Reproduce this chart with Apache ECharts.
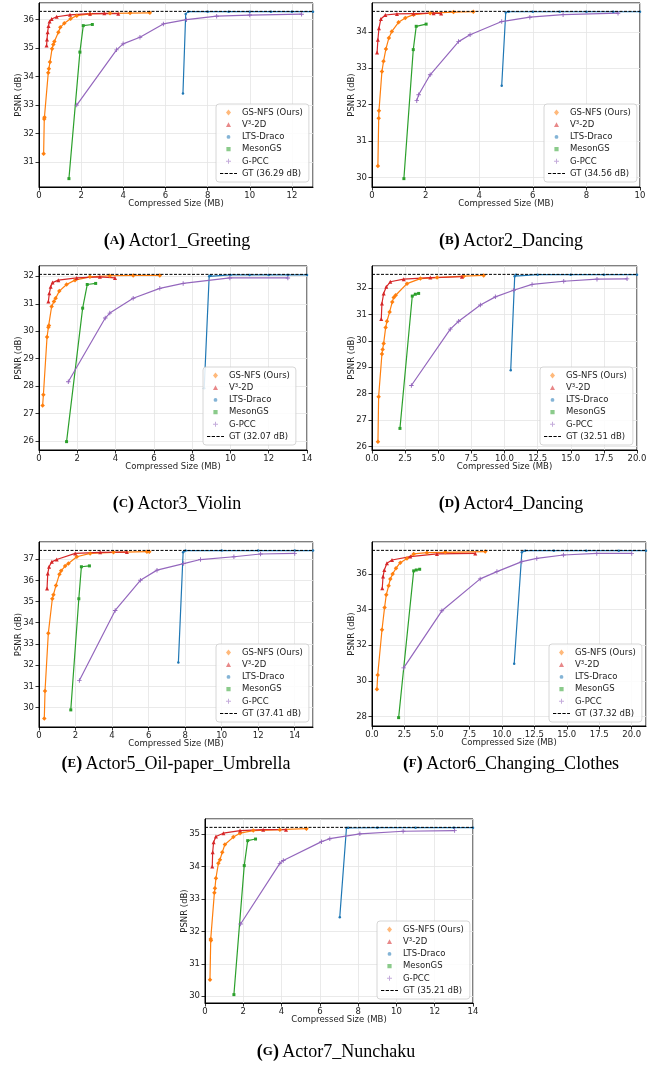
<!DOCTYPE html>
<html>
<head>
<meta charset="utf-8">
<script src="https://cdn.jsdelivr.net/npm/echarts@6/dist/echarts.min.js"></script>
<style>
  html, body { margin: 0; padding: 0; background: #fff; }
  #chart { width: 667px; height: 1072px; }
</style>
</head>
<body>
<div id="chart"></div>
<script>
// methods, in plotting order
const methods = ['GS-NFS (Ours)', 'V³-2D', 'LTS-Draco', 'MesonGS', 'G-PCC'];
const captions = [
  ['A', 'Actor1_Greeting'], ['B', 'Actor2_Dancing'], ['C', 'Actor3_Violin'], ['D', 'Actor4_Dancing'],
  ['E', 'Actor5_Oil-paper_Umbrella'], ['F', 'Actor6_Changing_Clothes'], ['G', 'Actor7_Nunchaku']
];
const gtValues = [36.29, 34.56, 32.07, 32.51, 37.41, 37.32, 35.21];
const xMax = [13, 10, 14, 20, 15, 21.1, 14];
const xStep = [2, 2, 2, 2.5, 2, 2.5, 2];
const yStep = [1, 1, 1, 1, 1, 2, 1];

// [size MB, PSNR dB]
const gsnfsA = [[0.22,31.29],[0.25,32.51],[0.26,32.57],[0.44,34.14],[0.47,34.28],[0.52,34.51],[0.62,34.98],[0.68,35.13],[0.73,35.23],[0.92,35.56],[1.01,35.73],[1.2,35.87],[1.5,36.03],[1.79,36.14],[2.42,36.2],[3.37,36.22],[4.32,36.23],[5.26,36.24]];
const v3A = [[0.36,35.09],[0.38,35.3],[0.41,35.56],[0.45,35.78],[0.5,35.93],[0.6,36.02],[0.84,36.1],[1.47,36.17],[2.42,36.21],[3.1,36.22],[3.76,36.21]];
const ltsA = [[6.83,33.41],[6.96,36.2],[7.08,36.28],[8,36.28],[9,36.28],[10,36.28],[11,36.28],[12,36.28],[13,36.28]];
const mesonA = [[1.42,30.42],[1.94,34.86],[2.1,35.79],[2.53,35.83]];
const gpccA = [[1.79,33.0],[3.68,34.94],[3.99,35.15],[4.79,35.38],[5.9,35.85],[7.0,36.0],[8.43,36.12],[10.0,36.16],[12.46,36.19]];

const gsnfsB = [[0.22,30.32],[0.25,31.63],[0.26,31.83],[0.37,32.91],[0.43,33.19],[0.52,33.53],[0.63,33.83],[0.74,34.01],[0.99,34.26],[1.24,34.38],[1.55,34.47],[2.17,34.51],[3.04,34.54],[3.78,34.55]];
const v3B = [[0.19,33.43],[0.22,33.78],[0.26,34.1],[0.33,34.35],[0.5,34.46],[0.93,34.49],[1.55,34.5],[2.3,34.51],[2.58,34.5]];
const ltsB = [[4.84,32.52],[4.99,34.53],[5.1,34.55],[6,34.55],[7,34.55],[8,34.55],[9,34.55],[10,34.55]];
const mesonB = [[1.19,29.97],[1.54,33.51],[1.65,34.15],[2.02,34.21]];
const gpccB = [[1.67,32.11],[1.74,32.27],[2.17,32.82],[3.23,33.73],[3.66,33.92],[4.84,34.28],[5.89,34.4],[7.13,34.47],[9.18,34.51]];

const gsnfsC = [[0.19,27.3],[0.23,27.69],[0.42,29.79],[0.49,30.14],[0.52,30.21],[0.66,30.9],[0.78,31.08],[0.87,31.2],[1.06,31.46],[1.44,31.7],[1.88,31.86],[2.66,31.98],[3.7,32.02],[4.92,32.03],[6.31,32.03]];
const v3C = [[0.49,31.08],[0.54,31.38],[0.61,31.62],[0.71,31.77],[1.01,31.86],[1.97,31.94],[3.18,31.98],[3.97,31.94]];
const ltsC = [[8.63,27.92],[8.89,32.0],[8.96,32.04],[10,32.05],[11,32.05],[12,32.05],[13,32.05],[14,32.05]];
const mesonC = [[1.44,25.98],[2.28,30.84],[2.52,31.7],[2.96,31.74]];
const gpccC = [[1.53,28.16],[3.46,30.48],[3.7,30.66],[4.92,31.2],[6.31,31.56],[7.53,31.74],[9.97,31.94],[13.0,31.94]];

const gsnfsD = [[0.45,26.19],[0.5,27.89],[0.75,29.5],[0.8,29.67],[0.88,29.9],[1.03,30.5],[1.13,30.74],[1.33,31.09],[1.53,31.47],[1.64,31.64],[1.79,31.72],[2.64,32.16],[3.65,32.35],[4.91,32.39],[6.92,32.44],[8.43,32.47]];
const v3D = [[0.7,30.82],[0.75,31.41],[0.88,31.79],[1.08,32.04],[1.38,32.23],[2.39,32.33],[4.4,32.39],[6.79,32.42]];
const ltsD = [[10.47,28.89],[10.77,32.44],[10.87,32.5],[12.5,32.5],[15,32.5],[17.5,32.5],[20,32.5]];
const mesonD = [[2.11,26.69],[3.04,31.69],[3.27,31.76],[3.52,31.79]];
const gpccD = [[2.97,28.31],[5.91,30.44],[6.54,30.74],[8.18,31.35],[9.31,31.66],[10.69,31.91],[12.08,32.13],[14.47,32.25],[16.98,32.33],[19.25,32.34]];

const gsnfsE = [[0.29,29.48],[0.33,30.78],[0.51,33.5],[0.73,35.13],[0.79,35.32],[0.93,35.76],[1.12,36.29],[1.21,36.45],[1.43,36.67],[1.61,36.79],[2.07,37.11],[2.8,37.27],[4.08,37.32],[5.91,37.35],[6.04,37.35]];
const v3E = [[0.44,35.61],[0.48,36.32],[0.55,36.64],[0.7,36.87],[0.97,36.98],[1.98,37.27],[3.35,37.32],[4.81,37.33]];
const ltsE = [[7.63,32.12],[7.89,37.32],[8.02,37.4],[10,37.4],[12,37.4],[14,37.4],[15,37.4]];
const mesonE = [[1.74,29.89],[2.18,35.13],[2.32,36.64],[2.76,36.68]];
const gpccE = [[2.21,31.28],[4.17,34.58],[5.55,36.0],[6.46,36.48],[7.92,36.79],[8.84,36.98],[10.67,37.11],[12.13,37.24],[14.0,37.27]];

const gsnfsF = [[0.38,29.53],[0.44,30.33],[0.77,32.87],[0.97,34.12],[1.1,34.83],[1.28,35.33],[1.41,35.72],[1.59,36.0],[1.85,36.32],[2.18,36.63],[2.69,36.87],[3.21,37.12],[4.23,37.19],[5.64,37.21],[8.72,37.25]];
const v3F = [[0.79,35.2],[0.85,35.85],[0.95,36.22],[1.15,36.6],[1.54,36.78],[2.95,36.97],[5.0,37.12],[7.95,37.15]];
const ltsF = [[10.95,30.96],[11.54,37.21],[11.79,37.3],[14,37.3],[16.5,37.3],[19,37.3],[21.1,37.3]];
const mesonF = [[2.05,27.94],[3.21,36.17],[3.41,36.22],[3.67,36.26]];
const gpccF = [[2.44,30.73],[5.38,33.93],[8.33,35.72],[9.62,36.13],[11.54,36.69],[12.69,36.87],[14.74,37.06],[17.31,37.15],[20.0,37.15]];

const gsnfsG = [[0.26,30.51],[0.3,31.77],[0.31,31.72],[0.49,33.19],[0.52,33.33],[0.57,33.64],[0.7,34.1],[0.78,34.21],[0.9,34.44],[1.04,34.68],[1.48,34.91],[1.83,35.03],[2.52,35.11],[3.91,35.14],[5.3,35.17]];
const v3G = [[0.38,34.0],[0.4,34.44],[0.45,34.75],[0.57,34.93],[0.96,35.03],[1.83,35.11],[3.04,35.14],[4.23,35.14]];
const ltsG = [[7.04,32.44],[7.39,35.19],[7.48,35.2],[9,35.2],[11,35.2],[13,35.2],[14,35.2]];
const mesonG = [[1.51,30.05],[2.05,34.03],[2.23,34.8],[2.64,34.85]];
const gpccG = [[1.86,32.23],[3.91,34.1],[4.09,34.19],[6.09,34.77],[6.52,34.86],[8.09,35.01],[10.35,35.09],[13.04,35.11]];

const panelData = [
  [gsnfsA, v3A, ltsA, mesonA, gpccA],
  [gsnfsB, v3B, ltsB, mesonB, gpccB],
  [gsnfsC, v3C, ltsC, mesonC, gpccC],
  [gsnfsD, v3D, ltsD, mesonD, gpccD],
  [gsnfsE, v3E, ltsE, mesonE, gpccE],
  [gsnfsF, v3F, ltsF, mesonF, gpccF],
  [gsnfsG, v3G, ltsG, mesonG, gpccG]
];

// layout
const grids = [
  { left: 39, top: 3, width: 274, height: 184 },
  { left: 372, top: 3, width: 268, height: 184 },
  { left: 39, top: 266, width: 268, height: 184 },
  { left: 372, top: 266, width: 265, height: 184 },
  { left: 39, top: 542, width: 274, height: 185 },
  { left: 372, top: 542, width: 274, height: 184 },
  { left: 205, top: 819, width: 268, height: 184 }
];
const legendPos = [[216, 104], [544, 104], [203, 367], [540, 367], [216, 644], [549, 644], [377, 921]];
const captionPos = [[177, 241], [511, 241], [177, 504], [511, 504], [176, 764], [511, 764], [336, 1052]];

const colors = ['#ff7f0e', '#d62728', '#1f77b4', '#2ca02c', '#9467bd'];
const plusPath = 'path://M4,0h2v10h-2zM0,4h10v2h-10z';
const symbols = ['diamond', 'triangle', 'circle', 'rect', plusPath];
const symbolSizes = [4.5, 4, 2.5, 3, 4.5];

// legend icons drawn inside a 17x6 box (tiny corner marks keep the box size)
const box = 'M0,0h0.01v0.01h-0.01zM17,6h-0.01v-0.01h0.01z';
const legendIcons = [
  'path://' + box + 'M8.5,0L11,3L8.5,6L6,3Z',
  'path://' + box + 'M8.5,0.6L11,5.4L6,5.4Z',
  'path://' + box + 'M6.6,3a1.9,1.9 0 1,0 3.8,0a1.9,1.9 0 1,0 -3.8,0Z',
  'path://' + box + 'M6.4,0.9h4.2v4.2h-4.2Z',
  'path://' + box + 'M8,0.5h1v5h-1zM6,2.5h5v1h-5z'
];
const dashIcon = 'path://' + box + 'M0,2.5h3.3v1h-3.3zM4.7,2.5h3.3v1h-3.3zM9.4,2.5h3.3v1h-3.3zM14.1,2.5h2.9v1h-2.9z';

const font = 'DejaVu Sans';
const axisText = { fontFamily: font, fontSize: 8.5, color: '#222' };

const option = {
  animation: false,
  backgroundColor: '#fff',
  grid: grids.map(g => Object.assign({ show: true, borderColor: '#000', borderWidth: 1, containLabel: false }, g)),
  xAxis: grids.map((g, i) => ({
    type: 'value', gridIndex: i, min: 0, max: xMax[i], interval: xStep[i],
    name: 'Compressed Size (MB)', nameLocation: 'middle', nameGap: 12, nameMoveOverlap: false,
    nameTextStyle: axisText,
    axisLine: { show: true, onZero: false, lineStyle: { color: '#000', width: 1 } },
    axisTick: { show: true, length: 3.5, lineStyle: { color: '#000', width: 0.8 } },
    axisLabel: Object.assign({
      margin: 4, showMinLabel: true, showMaxLabel: xMax[i] % xStep[i] === 0,
      formatter: v => (xStep[i] % 1 ? v.toFixed(1) : String(v))
    }, axisText),
    splitLine: { show: true, lineStyle: { color: '#e4e4e4', width: 0.8 } }
  })),
  yAxis: grids.map((g, i) => {
    const vals = panelData[i].flat().map(p => p[1]).concat([gtValues[i]]);
    const lo = Math.min(...vals), hi = Math.max(...vals), pad = (hi - lo) * 0.05;
    return {
      type: 'value', gridIndex: i, min: lo - pad, max: hi + pad,
      splitNumber: 5, minInterval: yStep[i], maxInterval: yStep[i],
      name: 'PSNR (dB)', nameLocation: 'middle', nameGap: 16, nameMoveOverlap: false,
      nameTextStyle: axisText,
      axisLine: { show: true, onZero: false, lineStyle: { color: '#000', width: 1 } },
      axisTick: { show: true, length: 3.5, lineStyle: { color: '#000', width: 0.8 } },
      axisLabel: Object.assign({ margin: 5, showMinLabel: false, showMaxLabel: false }, axisText),
      splitLine: { show: true, lineStyle: { color: '#e4e4e4', width: 0.8 } }
    };
  }),
  legend: grids.map((g, i) => ({
    left: legendPos[i][0], top: legendPos[i][1], orient: 'vertical',
    itemWidth: 17, itemHeight: 6, itemGap: 3.2, padding: [4, 6, 4, 4],
    backgroundColor: 'rgba(255,255,255,0.85)', borderColor: '#cccccc', borderWidth: 0.8, borderRadius: 3,
    textStyle: { fontFamily: font, fontSize: 8.5, color: '#222' },
    selectedMode: false,
    data: methods.map((m, k) => ({ name: m, icon: legendIcons[k], itemStyle: { color: colors[k], opacity: 0.55 } }))
      .concat([{ name: 'GT (' + gtValues[i].toFixed(2) + ' dB)', icon: dashIcon, itemStyle: { color: '#000', opacity: 1 } }])
  })),
  graphic: captions.map((c, i) => ({
    type: 'text', x: captionPos[i][0], y: captionPos[i][1],
    style: {
      text: '{b|(}{s|' + c[0] + '}{b|)} {n|' + c[1] + '}',
      align: 'center', verticalAlign: 'middle',
      rich: {
        b: { fontFamily: 'Liberation Serif', fontWeight: 'bold', fontSize: 18, fill: '#000' },
        s: { fontFamily: 'Liberation Serif', fontWeight: 'bold', fontSize: 13, fill: '#000' },
        n: { fontFamily: 'Liberation Serif', fontSize: 18, fill: '#000' }
      }
    }
  })),
  series: []
};

panelData.forEach((sets, i) => {
  sets.forEach((data, k) => {
    option.series.push({
      name: methods[k], type: 'line', xAxisIndex: i, yAxisIndex: i, data,
      symbol: symbols[k], symbolSize: symbolSizes[k], showSymbol: true,
      lineStyle: { color: colors[k], width: 1.2 },
      itemStyle: { color: colors[k] },
      emphasis: { disabled: true }, z: 2
    });
  });
  option.series.push({
    name: 'GT (' + gtValues[i].toFixed(2) + ' dB)', type: 'line', xAxisIndex: i, yAxisIndex: i,
    data: [[0, gtValues[i]], [xMax[i], gtValues[i]]],
    symbol: 'none', lineStyle: { color: '#000', width: 1, type: [3, 1.5] },
    emphasis: { disabled: true }, z: 3
  });
});

const chart = echarts.init(document.getElementById('chart'));
chart.setOption(option);
</script>
</body>
</html>
